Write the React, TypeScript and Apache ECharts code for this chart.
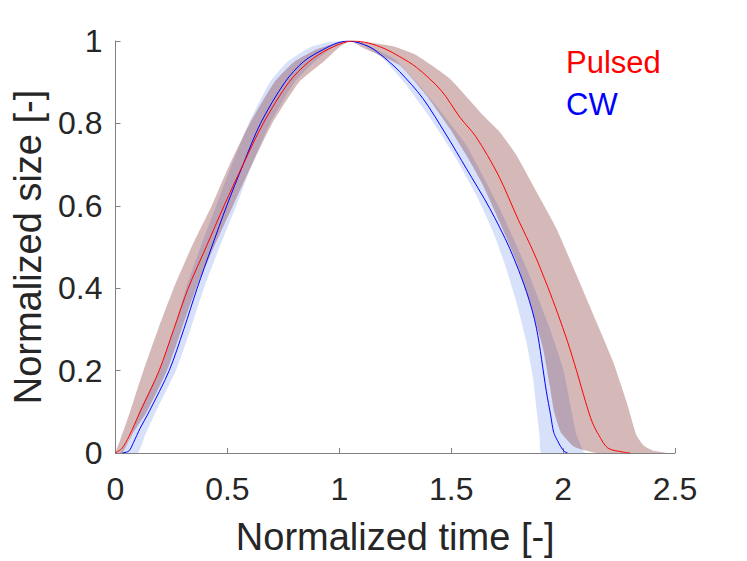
import React, { useEffect, useRef } from "react";
import * as echarts from "echarts";

// ---- Data ----
const xTicks = [0, 0.5, 1, 1.5, 2, 2.5];
const yTicks = [0, 0.2, 0.4, 0.6, 0.8, 1];

// Pulsed mean curve
const pulsedX = [0, 0.03, 0.06, 0.11, 0.195, 0.26, 0.325, 0.405, 0.485, 0.57, 0.66, 0.775, 0.865, 0.95, 1.06,
  1.13, 1.2, 1.27, 1.345, 1.455, 1.54, 1.61, 1.71, 1.8, 1.87, 1.93, 1.975, 2.02, 2.06, 2.1, 2.13, 2.16, 2.2, 2.27, 2.3];
const pulsedY = [0, 0.012, 0.04, 0.1, 0.2, 0.3, 0.4, 0.5, 0.6, 0.7, 0.8, 0.9, 0.95, 0.98, 1,
  0.995, 0.982, 0.962, 0.936, 0.88, 0.814, 0.768, 0.675, 0.566, 0.485, 0.405, 0.34, 0.27, 0.2, 0.125, 0.075, 0.043, 0.012, 0.002, 0];

// CW mean curve
const cwX = [0.03, 0.06, 0.08, 0.11, 0.15, 0.24, 0.305, 0.365, 0.43, 0.497, 0.57, 0.648, 0.757, 0.84, 0.93, 0.99, 1.04,
  1.134, 1.2, 1.269, 1.373, 1.478, 1.567, 1.672, 1.761, 1.836, 1.881, 1.925, 1.945, 1.958, 1.975, 1.99, 2.005, 2.02];
const cwY = [0, 0.005, 0.025, 0.06, 0.1, 0.2, 0.3, 0.4, 0.5, 0.6, 0.7, 0.8, 0.9, 0.95, 0.98, 0.995, 1,
  0.986, 0.96, 0.926, 0.861, 0.772, 0.691, 0.594, 0.497, 0.392, 0.303, 0.15, 0.09, 0.05, 0.03, 0.015, 0.004, 0];

// Pulsed spread band: outer arch (rising-left edge, then falling-right edge)
const pulsedOuterX = [0, 0.02, 0.065, 0.125, 0.19, 0.26, 0.34, 0.43, 0.51, 0.6, 0.71, 0.8, 0.9, 1.0, 1.05,
  1.15, 1.24, 1.343, 1.493, 1.642, 1.716, 1.791, 1.881, 1.97, 2.06, 2.149, 2.224, 2.284, 2.328, 2.36, 2.4, 2.46];
const pulsedOuterY = [0, 0.03, 0.1, 0.2, 0.3, 0.4, 0.5, 0.6, 0.7, 0.8, 0.9, 0.95, 0.98, 0.997, 1,
  0.995, 0.987, 0.966, 0.909, 0.82, 0.78, 0.723, 0.634, 0.545, 0.432, 0.318, 0.221, 0.124, 0.043, 0.018, 0.006, 0];
// Pulsed spread band: inner arch (rising-right edge, then falling-left edge)
const pulsedInnerX = [0.03, 0.08, 0.14, 0.23, 0.295, 0.36, 0.44, 0.525, 0.61, 0.7, 0.82, 0.93, 1.0, 1.05,
  1.1, 1.269, 1.388, 1.493, 1.567, 1.642, 1.716, 1.791, 1.851, 1.91, 1.94, 1.96, 1.99, 2.05, 2.15];
const pulsedInnerY = [0, 0.05, 0.1, 0.2, 0.3, 0.4, 0.5, 0.6, 0.7, 0.8, 0.9, 0.95, 0.985, 1,
  0.985, 0.942, 0.869, 0.788, 0.723, 0.65, 0.561, 0.464, 0.367, 0.254, 0.165, 0.1, 0.05, 0.015, 0];

// CW spread band: outer arch
const cwOuterX = [0.02, 0.06, 0.105, 0.195, 0.26, 0.315, 0.38, 0.45, 0.52, 0.595, 0.69, 0.77, 0.87, 0.96, 1.04,
  1.1, 1.25, 1.4, 1.567, 1.716, 1.836, 1.94, 2.0, 2.03, 2.06, 2.09, 2.1];
const cwOuterY = [0, 0.03, 0.1, 0.2, 0.3, 0.4, 0.5, 0.6, 0.7, 0.8, 0.9, 0.95, 0.985, 0.998, 1,
  0.995, 0.955, 0.865, 0.747, 0.594, 0.449, 0.303, 0.205, 0.124, 0.044, 0.005, 0];
// CW spread band: inner arch
const cwInnerX = [0.1, 0.13, 0.18, 0.27, 0.335, 0.395, 0.465, 0.54, 0.61, 0.69, 0.8, 0.89, 0.97, 1.04,
  1.09, 1.194, 1.299, 1.418, 1.522, 1.612, 1.687, 1.746, 1.791, 1.836, 1.866, 1.881, 1.895, 1.903];
const cwInnerY = [0, 0.04, 0.1, 0.2, 0.3, 0.4, 0.5, 0.6, 0.7, 0.8, 0.9, 0.95, 0.985, 1,
  0.995, 0.958, 0.893, 0.804, 0.715, 0.626, 0.537, 0.448, 0.367, 0.27, 0.181, 0.108, 0.043, 0];

const legendLabels = ["Pulsed", "CW"];

// ---- helpers ----
const zip = (xs: number[], ys: number[]) => xs.map((x, i) => [x, ys[i]]);
const polygonPoints = (ox: number[], oy: number[], ix: number[], iy: number[]) =>
  zip(ox, oy).concat(zip(ix, iy).reverse());

const FONT = "'Liberation Sans', Arial, Helvetica, sans-serif";
const AXIS_COLOR = "#808080";
const TEXT_COLOR = "#262626";

function bandSeries(name: string, pts: number[][], fill: string) {
  return {
    name,
    type: "custom",
    coordinateSystem: "cartesian2d",
    clip: true,
    silent: true,
    data: pts,
    encode: { x: 0, y: 1 },
    renderItem: (params: any, api: any) => {
      if (params.dataIndex !== 0) return null;
      const points = pts.map((p) => api.coord(p));
      return {
        type: "polygon",
        shape: { points, smooth: 0.15 },
        style: { fill, stroke: "none" },
      };
    },
  };
}

export default function App() {
  const ref = useRef<HTMLDivElement>(null);

  useEffect(() => {
    if (!ref.current) return;
    const chart = echarts.init(ref.current, undefined, { renderer: "svg" });

    const pulsedBand = polygonPoints(pulsedOuterX, pulsedOuterY, pulsedInnerX, pulsedInnerY);
    const cwBand = polygonPoints(cwOuterX, cwOuterY, cwInnerX, cwInnerY);

    const axisCommon = {
      axisLine: { show: true, lineStyle: { color: AXIS_COLOR, width: 1 } },
      axisTick: { show: true, inside: true, length: 5, lineStyle: { color: AXIS_COLOR, width: 1 } },
      splitLine: { show: false },
      nameLocation: "middle",
      nameTextStyle: { color: TEXT_COLOR, fontSize: 38, fontFamily: FONT },
    };

    chart.setOption({
      animation: false,
      backgroundColor: "#ffffff",
      grid: { left: 115.5, right: 72, top: 41, bottom: 108, containLabel: false },
      xAxis: {
        type: "value",
        min: xTicks[0],
        max: xTicks[xTicks.length - 1],
        interval: xTicks[1] - xTicks[0],
        name: "Normalized time [-]",
        nameGap: 65,
        ...axisCommon,
        axisLabel: { color: TEXT_COLOR, fontSize: 32, fontFamily: FONT, margin: 20 },
      },
      yAxis: {
        type: "value",
        min: yTicks[0],
        max: yTicks[yTicks.length - 1],
        interval: yTicks[1] - yTicks[0],
        name: "Normalized size [-]",
        nameGap: 66,
        ...axisCommon,
        axisLabel: { color: TEXT_COLOR, fontSize: 32, fontFamily: FONT, margin: 13 },
      },
      series: [
        bandSeries("CW band", cwBand, "rgba(122,155,238,0.3)"),
        {
          name: legendLabels[1],
          type: "line",
          data: zip(cwX, cwY),
          showSymbol: false,
          smooth: 0.3,
          lineStyle: { color: "#0000ff", width: 1 },
          itemStyle: { color: "#0000ff" },
          silent: true,
        },
        bandSeries("Pulsed band", pulsedBand, "rgba(115,22,22,0.3)"),
        {
          name: legendLabels[0],
          type: "line",
          data: zip(pulsedX, pulsedY),
          showSymbol: false,
          smooth: 0.3,
          lineStyle: { color: "#ff0000", width: 1 },
          itemStyle: { color: "#ff0000" },
          silent: true,
        },
      ],
      graphic: [
        {
          type: "text",
          left: 566,
          top: 47,
          style: { text: legendLabels[0], fill: "#ff0000", font: `31px ${FONT}` },
        },
        {
          type: "text",
          left: 566,
          top: 89,
          style: { text: legendLabels[1], fill: "#0000ff", font: `31px ${FONT}` },
        },
      ],
    });

    return () => chart.dispose();
  }, []);

  return (
    <div
      ref={ref}
      style={{ position: "fixed", left: 0, top: 0, width: 747, height: 561, background: "#fff" }}
    />
  );
}
